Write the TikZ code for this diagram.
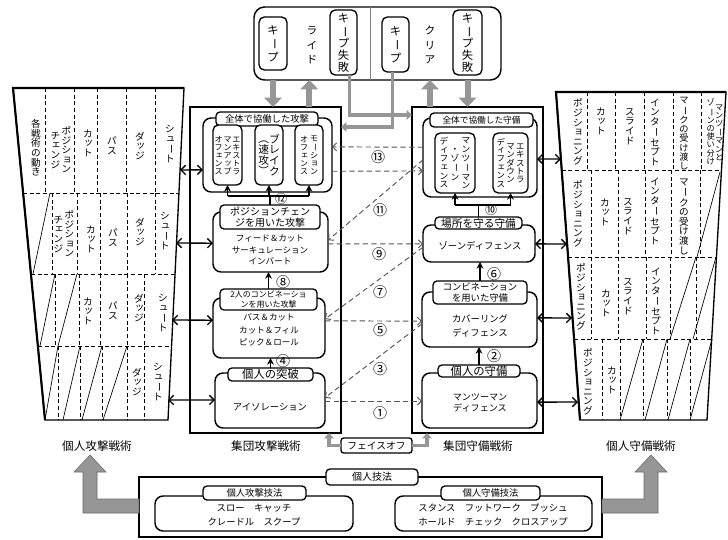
\documentclass[tikz,border=0pt]{standalone}
\usepackage{fontspec}
\usepackage{graphicx}
\setmainfont{Noto Sans CJK JP}
\newfontfamily\jp{Noto Sans CJK JP}
\usetikzlibrary{arrows.meta,calc}
\definecolor{garw}{RGB}{150,150,150}
\definecolor{garwd}{RGB}{105,105,105}
\definecolor{dgray}{RGB}{85,85,85}
\newcommand\fs[2]{\fontsize{#1}{#2}\selectfont}
\newcommand\bx[7]{\node[#6, minimum width={(#4-#2)*0.75pt}, minimum height={(#5-#3)*0.75pt}] (#1) at ({(#2+#4)/2},{(#3+#5)/2}) {#7};}
\ExplSyntaxOn
\tl_const:Nn \c_tate_small_tl {ッャュョィェァォゥっゃゅょ}
\cs_new_protected:Npn \tate_cell:n #1
 {
  \hbox_to_wd:nn {1em}
   {
    \tex_vrule:D height~0.88em~depth~0.12em~width~0pt
    \hss
    \str_case:nnF {#1}
     {
      {ー} {\rotatebox[origin=c]{-90}{ー}}
      {（} {\rotatebox[origin=c]{-90}{（}}
      {）} {\rotatebox[origin=c]{-90}{）}}
     }
     {
      \tl_if_in:NnTF \c_tate_small_tl {#1}
       { \raisebox{0.1em}{\kern0.14em #1} }
       { #1 }
     }
    \hss
   }
 }
\NewDocumentCommand \tcol { O{0pt} m }
 {
  \ensuremath{\vcenter{\offinterlineskip \tl_map_inline:nn {#2} { \tate_cell:n {##1} \kern #1 } \kern -#1 }}
 }
\ExplSyntaxOff
\newcommand\ttwo[3][0.5pt]{\tcol{#3}\kern#1\tcol{#2}}
\newcommand\tthree[4][0.5pt]{\tcol{#4}\kern#1\tcol{#3}\kern#1\tcol{#2}}
\tikzset{
  every node/.style={inner sep=0pt, outer sep=0pt},
  bodybox/.style={draw, line width=1.1pt, rounded corners=6pt, fill=white},
  tabbox/.style={draw, line width=1pt, rounded corners=3pt, fill=white, align=center, font=\jp\fs{7}{8}},
  vbox/.style={draw, line width=1pt, rounded corners=4pt, fill=white},
  bigbox/.style={draw, line width=0.9pt},
  htext/.style={align=center, font=\jp\fs{6.4}{8.7}},
  bigarrow/.style={draw=garwd, line width=0.4pt, fill=garw},
  garrow/.style={garw, line width=4.5pt, -{Triangle[length=7pt, width=13pt]}},
  larrow/.style={garw, line width=2.6pt, line join=miter, -{Triangle[length=4pt, width=7pt]}},
  darrow/.style={dgray, line width=0.7pt, dash pattern=on 4pt off 2.5pt, -{Straight Barb[length=3pt,width=6pt]}},
  sarrow/.style={black, line width=1pt, {Straight Barb[length=3.5pt,width=7pt]}-{Straight Barb[length=3.5pt,width=7pt]}},
  varrow/.style={black, line width=1.1pt, -{Stealth[length=5pt,width=5pt]}},
  num/.style={font=\jp\fs{10.5}{11}},
  tdash/.style={line width=0.6pt, dash pattern=on 3pt off 2pt},
  tslant/.style={line width=0.5pt},
  trap/.style={line width=1pt},
  tt/.style={font=\jp\fs{7.2}{8}},
}
\begin{document}
\begin{tikzpicture}[x=0.75pt,y=-0.75pt]
\useasboundingbox (0,0) rectangle (728,539);

% ---------- top box ----------
\bx{topbox}{254}{7}{501}{80}{draw, line width=1.1pt, rounded corners=8pt}{}
\draw[line width=0.5pt, gray] ($(topbox.north west)!0.469!(topbox.north east)$) -- ($(topbox.south west)!0.469!(topbox.south east)$);
\bx{keepL}{259}{17}{287}{70}{vbox}{}
\node[font=\jp\fs{8.5}{9}] (keepLt) at (keepL) {\tcol[0.8pt]{キープ}};
\node[font=\jp\fs{8}{9}] (ride) at (312,45) {\tcol[3pt]{ライド}};
\bx{failL}{330}{10}{357}{75}{vbox}{}
\node[font=\jp\fs{8.5}{9}] (failLt) at (failL) {\tcol[0.3pt]{キープ失敗}};
\bx{keepR}{382}{17}{409}{72}{vbox}{}
\node[font=\jp\fs{8.5}{9}] (keepRt) at (keepR) {\tcol[0.8pt]{キープ}};
\node[font=\jp\fs{8}{9}] (clear) at (430,45) {\tcol[3pt]{クリア}};
\bx{failR}{453}{10}{482}{75}{vbox}{}
\node[font=\jp\fs{8.5}{9}] (failRt) at (failR) {\tcol[0.3pt]{キープ失敗}};

% ---------- big boxes ----------
\bx{atkBig}{190}{107}{341}{433}{bigbox}{}
\bx{defBig}{412}{107}{543}{433}{bigbox}{}

% gray arrows top
\draw[garrow] (keepL.south |- topbox.south) -- (keepL.south |- atkBig.north);
\coordinate (upA) at ($(atkBig.north west)!0.79!(atkBig.north east)$);
\draw[garrow] (upA) -- (upA |- topbox.south);
\coordinate (upD) at ($(defBig.north west)!0.137!(defBig.north east)$);
\draw[garrow] (upD) -- (upD |- topbox.south);
\draw[garrow] (failR.south |- topbox.south) -- (failR.south |- defBig.north);
\coordinate (yL1) at (0,115);
\coordinate (yL2) at (0,127);
\draw[larrow] ([xshift=4.5pt]failL.south) |- (defBig.west |- yL1);
\draw[larrow] ([xshift=-2.25pt]keepR.south) |- (atkBig.east |- yL2);

% ---------- left (attack) contents ----------
\bx{atkAll}{203}{118}{332}{192}{bodybox}{}
\bx{atkAllTab}{216}{112}{318}{126}{tabbox, font=\jp\fs{7}{8}}{全体で協働した攻撃}
\bx{extraO}{213}{125}{242}{185}{vbox}{}
\node[font=\jp\fs{6}{7}] (extraOt) at (extraO) {\tthree[0.6pt]{エキストラ}{マンアップ}{オフェンス}};
\bx{breakB}{255}{125}{283}{185}{vbox}{}
\node[font=\jp\fs{8}{9}] (breakt) at (breakB) {\ttwo[0pt]{ブレイク}{（速攻）}};
\bx{motion}{295}{125}{323}{185}{vbox}{}
\node[font=\jp\fs{6}{7}] (motiont) at (motion) {\ttwo[1.5pt]{モーション}{オフェンス}};

\coordinate (brA) at (0,196);
\node[font=\jp\fs{9}{10}] (n12) at (281,199) {⑫};
\bx{pcBody}{213}{212}{328}{272}{bodybox}{}
\bx{pcTab}{220}{205}{320}{229}{tabbox, font=\jp\fs{7.5}{8.5}}{ポジションチェン\\ジを用いた攻撃}
\node[htext] (pcText) at (270,250) {フィード＆カット\\サーキュレーション\\インバート};
\draw[line width=1.1pt] (extraO.south |- brA) -- (motion.south |- brA);
\draw[line width=1.1pt] (pcTab.north) -- (pcTab.north |- brA);
\draw[varrow] (extraO.south |- brA) -- (extraO.south);
\draw[varrow] (breakB.south |- brA) -- (breakB.south);
\draw[varrow] (motion.south |- brA) -- (motion.south);

\bx{combBody}{213}{298}{325}{358}{bodybox}{}
\bx{combTab}{220}{289}{317}{310}{tabbox, font=\jp\fs{6}{7.3}}{2人のコンビネーショ\\ンを用いた攻撃}
\node[htext, font=\jp\fs{6.4}{9.4}] (combText) at (269,330) {パス＆カット\\カット＆フィル\\ピック＆ロール};

\bx{indBody}{215}{373}{325}{428}{bodybox}{}
\bx{indTab}{228}{368}{313}{381}{tabbox, font=\jp\fs{8.5}{9}}{個人の突破}
\node[font=\jp\fs{7}{8}] (indText) at (270,407) {アイソレーション};

\draw[varrow] (combTab.north) -- (combTab.north |- pcBody.south);
\draw[varrow] (indTab.north) -- (indTab.north |- combBody.south);
\node[num] (n8) at (283,282) {⑧};
\node[num] (n4) at (283,361) {④};

% ---------- right (defence) contents ----------
\bx{defAll}{423}{118}{537}{197}{bodybox}{}
\bx{defAllTab}{430}{113}{533}{127}{tabbox, font=\jp\fs{6.5}{7}}{全体で協働した守備}
\bx{mzBox}{435}{133}{475}{193}{vbox}{}
\node[font=\jp\fs{6.5}{7}] (mzt) at (mzBox) {\tthree[1.8pt]{マンツーマン}{・ゾーン}{ディフェンス}};
\bx{emdBox}{493}{133}{528}{193}{vbox}{}
\node[font=\jp\fs{6.3}{7}] (emdt) at (emdBox) {\tthree[1pt]{エキストラ}{マンダウン}{ディフェンス}};

\coordinate (brD) at (0,205);
\node[font=\jp\fs{9}{10}] (n10) at (491,210) {⑩};
\bx{zoneBody}{423}{225}{535}{262}{bodybox}{}
\bx{zoneTab}{435}{217}{522}{229}{tabbox, font=\jp\fs{8}{9}}{場所を守る守備}
\node[font=\jp\fs{7}{8}] (zoneText) at (480,246) {ゾーンディフェンス};
\draw[line width=1.1pt] (mzBox.south |- brD) -- (emdBox.south |- brD);
\draw[line width=1.1pt] (zoneTab.north) -- (zoneTab.north |- brD);
\draw[varrow] (mzBox.south |- brD) -- (mzBox.south);
\draw[varrow] (emdBox.south |- brD) -- (emdBox.south);

\bx{cvBody}{422}{292}{537}{347}{bodybox}{}
\bx{cvTab}{433}{281}{527}{304}{tabbox, font=\jp\fs{7}{8.3}}{コンビネーション\\を用いた守備}
\node[htext, font=\jp\fs{7}{11}] (cvText) at (480,326) {カバーリング\\ディフェンス};

\bx{mmBody}{422}{373}{537}{428}{bodybox}{}
\bx{mmTab}{438}{365}{520}{377}{tabbox, font=\jp\fs{8.5}{9}}{個人の守備}
\node[htext, font=\jp\fs{6.8}{8.8}] (mmText) at (480,403) {マンツーマン\\ディフェンス};

\draw[varrow] (cvTab.north) -- (cvTab.north |- zoneBody.south);
\draw[varrow] (mmTab.north) -- (mmTab.north |- cvBody.south);
\node[num] (n6) at (494,274) {⑥};
\node[num] (n2) at (494,356) {②};

% ---------- dashed arrows between columns ----------
\draw[darrow] ($(defAll.north west)!0.37!(defAll.south west)$) -- ($(atkAll.north east)!0.39!(atkAll.south east)$);
\draw[darrow] ($(atkAll.north east)!0.72!(atkAll.south east)$) -- ($(defAll.north west)!0.67!(defAll.south west)$);
\draw[darrow] ($(defAll.north west)!0.53!(defAll.south west)$) -- ($(pcBody.north east)!0.47!(pcBody.south east)$);
\draw[darrow] ($(pcBody.north east)!0.53!(pcBody.south east)$) -- ($(zoneBody.north west)!0.51!(zoneBody.south west)$);
\draw[darrow] ($(zoneBody.north west)!0.6!(zoneBody.south west)$) -- ($(combBody.north east)!0.35!(combBody.south east)$);
\draw[darrow] ($(combBody.north east)!0.38!(combBody.south east)$) -- ($(cvBody.north west)!0.53!(cvBody.south west)$);
\draw[darrow] ($(cvBody.north west)!0.58!(cvBody.south west)$) -- ($(indBody.north east)!0.45!(indBody.south east)$);
\draw[darrow] ($(indBody.north east)!0.51!(indBody.south east)$) -- ($(mmBody.north west)!0.51!(mmBody.south west)$);
\node[num] (n13) at (378,157) {⑬};
\node[num] (n11) at (380,210) {⑪};
\node[num] (n9) at (379,254) {⑨};
\node[num] (n7) at (380,292) {⑦};
\node[num] (n5) at (380,330) {⑤};
\node[num] (n3) at (380,369) {③};
\node[num] (n1) at (380,413) {①};

% ---------- face-off ----------
\bx{faceoff}{341}{438}{412}{453}{draw, line width=1pt, rounded corners=2pt, fill=white, font=\jp\fs{7.3}{8}}{フェイスオフ}
\draw[larrow] (faceoff.west) -| ($(atkBig.south east)+(-12,0)$);
\draw[larrow] (faceoff.east) -| ($(defBig.south west)+(15,0)$);

% ---------- labels ----------
\node[font=\jp\fs{8.7}{10}] (lblIA) at (97,446) {個人攻撃戦術};
\node[font=\jp\fs{8.7}{10}] (lblGA) at (266,446) {集団攻撃戦術};
\node[font=\jp\fs{8.7}{10}] (lblGD) at (478,446) {集団守備戦術};
\node[font=\jp\fs{8.7}{10}] (lblID) at (641,446) {個人守備戦術};

% ---------- left trapezoid ----------
\draw[trap] (13,88) -- (184,88) -- (168,420) -- (45,420) -- cycle;
\draw[line width=1.6pt] (45,420) -- (13,88) -- (184,88);
\draw[tdash] (23.1,193) -- (178.6,193);
\draw[tdash] (30.9,274) -- (174.5,274);
\draw[tdash] (37.9,346) -- (170.8,346);
\foreach \x in {45,74,97,126,155} \draw[tdash] (\x,88) -- (\x,193);
\foreach \x in {52,77,100,127,155} \draw[tdash] (\x,193) -- (\x,274);
\foreach \x in {55,79,100,127,144} \draw[tdash] (\x,274) -- (\x,346);
\foreach \x in {58,80,102,127,144} \draw[tdash] (\x,346) -- (\x,420);
\draw[tslant] (50,193) -- (33,274);
\draw[tslant] (55,274) -- (40,346);
\draw[tslant] (77,274) -- (58,346);
\draw[tslant] (58,346) -- (45,420);
\draw[tslant] (80,346) -- (63,420);
\draw[tslant] (102,346) -- (82,420);
\draw[tslant] (127,346) -- (103,420);
\node[tt] (la1) at (36,148) {\tcol{各戦術の動き}};
\node[tt] (la2) at (61,150) {\ttwo[1pt]{ポジション}{チェンジ}};
\node[tt] (la3) at (88,143) {\tcol{カット}};
\node[tt] (la4) at (112,146) {\tcol{パス}};
\node[tt] (la5) at (140,146) {\tcol{ダッジ}};
\node[tt] (la6) at (170,144) {\tcol{シュート}};
\node[tt] (lb2) at (64,234) {\ttwo[1pt]{ポジション}{チェンジ}};
\node[tt] (lb3) at (91,239) {\tcol{カット}};
\node[tt] (lb4) at (113,238) {\tcol{パス}};
\node[tt] (lb5) at (140,232) {\tcol{ダッジ}};
\node[tt] (lb6) at (165,231) {\tcol{シュート}};
\node[tt] (lc3) at (88,311) {\tcol{カット}};
\node[tt] (lc4) at (113,311) {\tcol{パス}};
\node[tt] (lc5) at (139,308) {\tcol{ダッジ}};
\node[tt] (lc6) at (163,313) {\tcol{シュート}};
\node[tt] (ld5) at (137,382) {\tcol{ダッジ}};
\node[tt] (ld6) at (158,382) {\tcol{シュート}};

\coordinate (pL1) at (180,170);
\coordinate (pL2) at (176,243);
\coordinate (pL3) at (172,320);
\coordinate (pL4) at (168,400);
\draw[sarrow] (pL1) -- ($(atkAll.north west)!0.7!(atkAll.south west)$);
\draw[sarrow] (pL2) -- ($(pcBody.north west)!0.52!(pcBody.south west)$);
\draw[sarrow] (pL3) -- ($(combBody.north west)!0.37!(combBody.south west)$);
\draw[sarrow] (pL4) -- ($(indBody.north west)!0.49!(indBody.south west)$);

% ---------- right trapezoid ----------
\draw[trap] (556,92) -- (726,92) -- (707,420) -- (580,420) -- cycle;
\draw[line width=1.6pt] (580,420) -- (556,92) -- (726,92);
\draw[tdash] (561.7,170) -- (721.5,170);
\draw[tdash] (568.1,257) -- (716.4,257);
\draw[tdash] (574.1,339) -- (711.7,339);
\foreach \x in {587,615,644,673,701} \draw[tdash] (\x,92) -- (\x,170);
\foreach \x in {591,618,645,671,700} \draw[tdash] (\x,170) -- (\x,257);
\foreach \x in {591,618,646,670,696} \draw[tdash] (\x,257) -- (\x,339);
\foreach \x in {602,620,643,667,690} \draw[tdash] (\x,339) -- (\x,420);
\draw[tslant] (720,172) -- (697,257);
\draw[tslant] (696,257) -- (670,339);
\draw[tslant] (716,257) -- (693,339);
\draw[tslant] (643,339) -- (620,420);
\draw[tslant] (667,339) -- (645,420);
\draw[tslant] (690,339) -- (668,420);
\draw[tslant] (712,339) -- (690,420);
\node[tt] (ra1) at (578,132) {\tcol{ポジショニング}};
\node[tt] (ra2) at (601,121) {\tcol{カット}};
\node[tt] (ra3) at (630,126) {\tcol{スライド}};
\node[tt] (ra4) at (655,132) {\tcol{インターセプト}};
\node[tt, font=\jp\fs{6.9}{7}] (ra5) at (684,133) {\tcol{マークの受け渡し}};
\node[tt, font=\jp\fs{6.1}{7}] (ra6) at (715,132) {\ttwo[0.3pt]{マンツーマンと}{ゾーンの使い分け}};
\node[tt] (rb1) at (578,214) {\tcol{ポジショニング}};
\node[tt] (rb2) at (605,212) {\tcol{カット}};
\node[tt] (rb3) at (628,216) {\tcol{スライド}};
\node[tt] (rb4) at (655,211) {\tcol{インターセプト}};
\node[tt] (rb5) at (684,216) {\tcol{マークの受け渡し}};
\node[tt] (rc1) at (581,297) {\tcol{ポジショニング}};
\node[tt] (rc2) at (606,303) {\tcol{カット}};
\node[tt] (rc3) at (628,296) {\tcol{スライド}};
\node[tt] (rc4) at (656,301) {\tcol{インターセプト}};
\node[tt] (rd1) at (588,382) {\tcol{ポジショニング}};
\node[tt] (rd2) at (612,380) {\tcol{カット}};

\coordinate (pR1) at (561,159);
\coordinate (pR2) at (567,244);
\coordinate (pR3) at (572,318);
\coordinate (pR4) at (578,402);
\draw[sarrow] ($(defAll.north east)!0.52!(defAll.south east)$) -- (pR1);
\draw[sarrow] ($(zoneBody.north east)!0.51!(zoneBody.south east)$) -- (pR2);
\draw[sarrow] ($(cvBody.north east)!0.47!(cvBody.south east)$) -- (pR3);
\draw[sarrow] ($(mmBody.north east)!0.53!(mmBody.south east)$) -- (pR4);

% ---------- bottom skills ----------
\bx{skill}{139}{477}{602}{537}{draw, line width=1pt}{}
\bx{skillTab}{326}{469}{418}{485}{tabbox, font=\jp\fs{7.5}{8}}{個人技法}
\bx{askBody}{155}{496}{353}{531}{bodybox}{}
\bx{askTab}{203}{486}{306}{500}{tabbox, font=\jp\fs{7}{8}}{個人攻撃技法}
\node[htext, font=\jp\fs{7}{10.5}] (askText) at (254,515) {スロー　キャッチ\\クレードル　スクープ};
\bx{dskBody}{395}{496}{592}{531}{bodybox}{}
\bx{dskTab}{441}{486}{540}{500}{tabbox, font=\jp\fs{7}{8}}{個人守備技法}
\node[htext, font=\jp\fs{7}{10.5}] (dskText) at (493,515) {スタンス　フットワーク　プッシュ\\ホールド　チェック　クロスアップ};

\draw[bigarrow] (skill.west |- 0,499) -- (97,499) -- (97,472) -- (106,472) -- (90,455) -- (74,472) -- (83,472) -- (83,513) -- (skill.west |- 0,513) -- cycle;
\draw[bigarrow] (skill.east |- 0,499) -- (644,499) -- (644,472) -- (635,472) -- (651,455) -- (667,472) -- (658,472) -- (658,513) -- (skill.east |- 0,513) -- cycle;
\end{tikzpicture}
\end{document}
